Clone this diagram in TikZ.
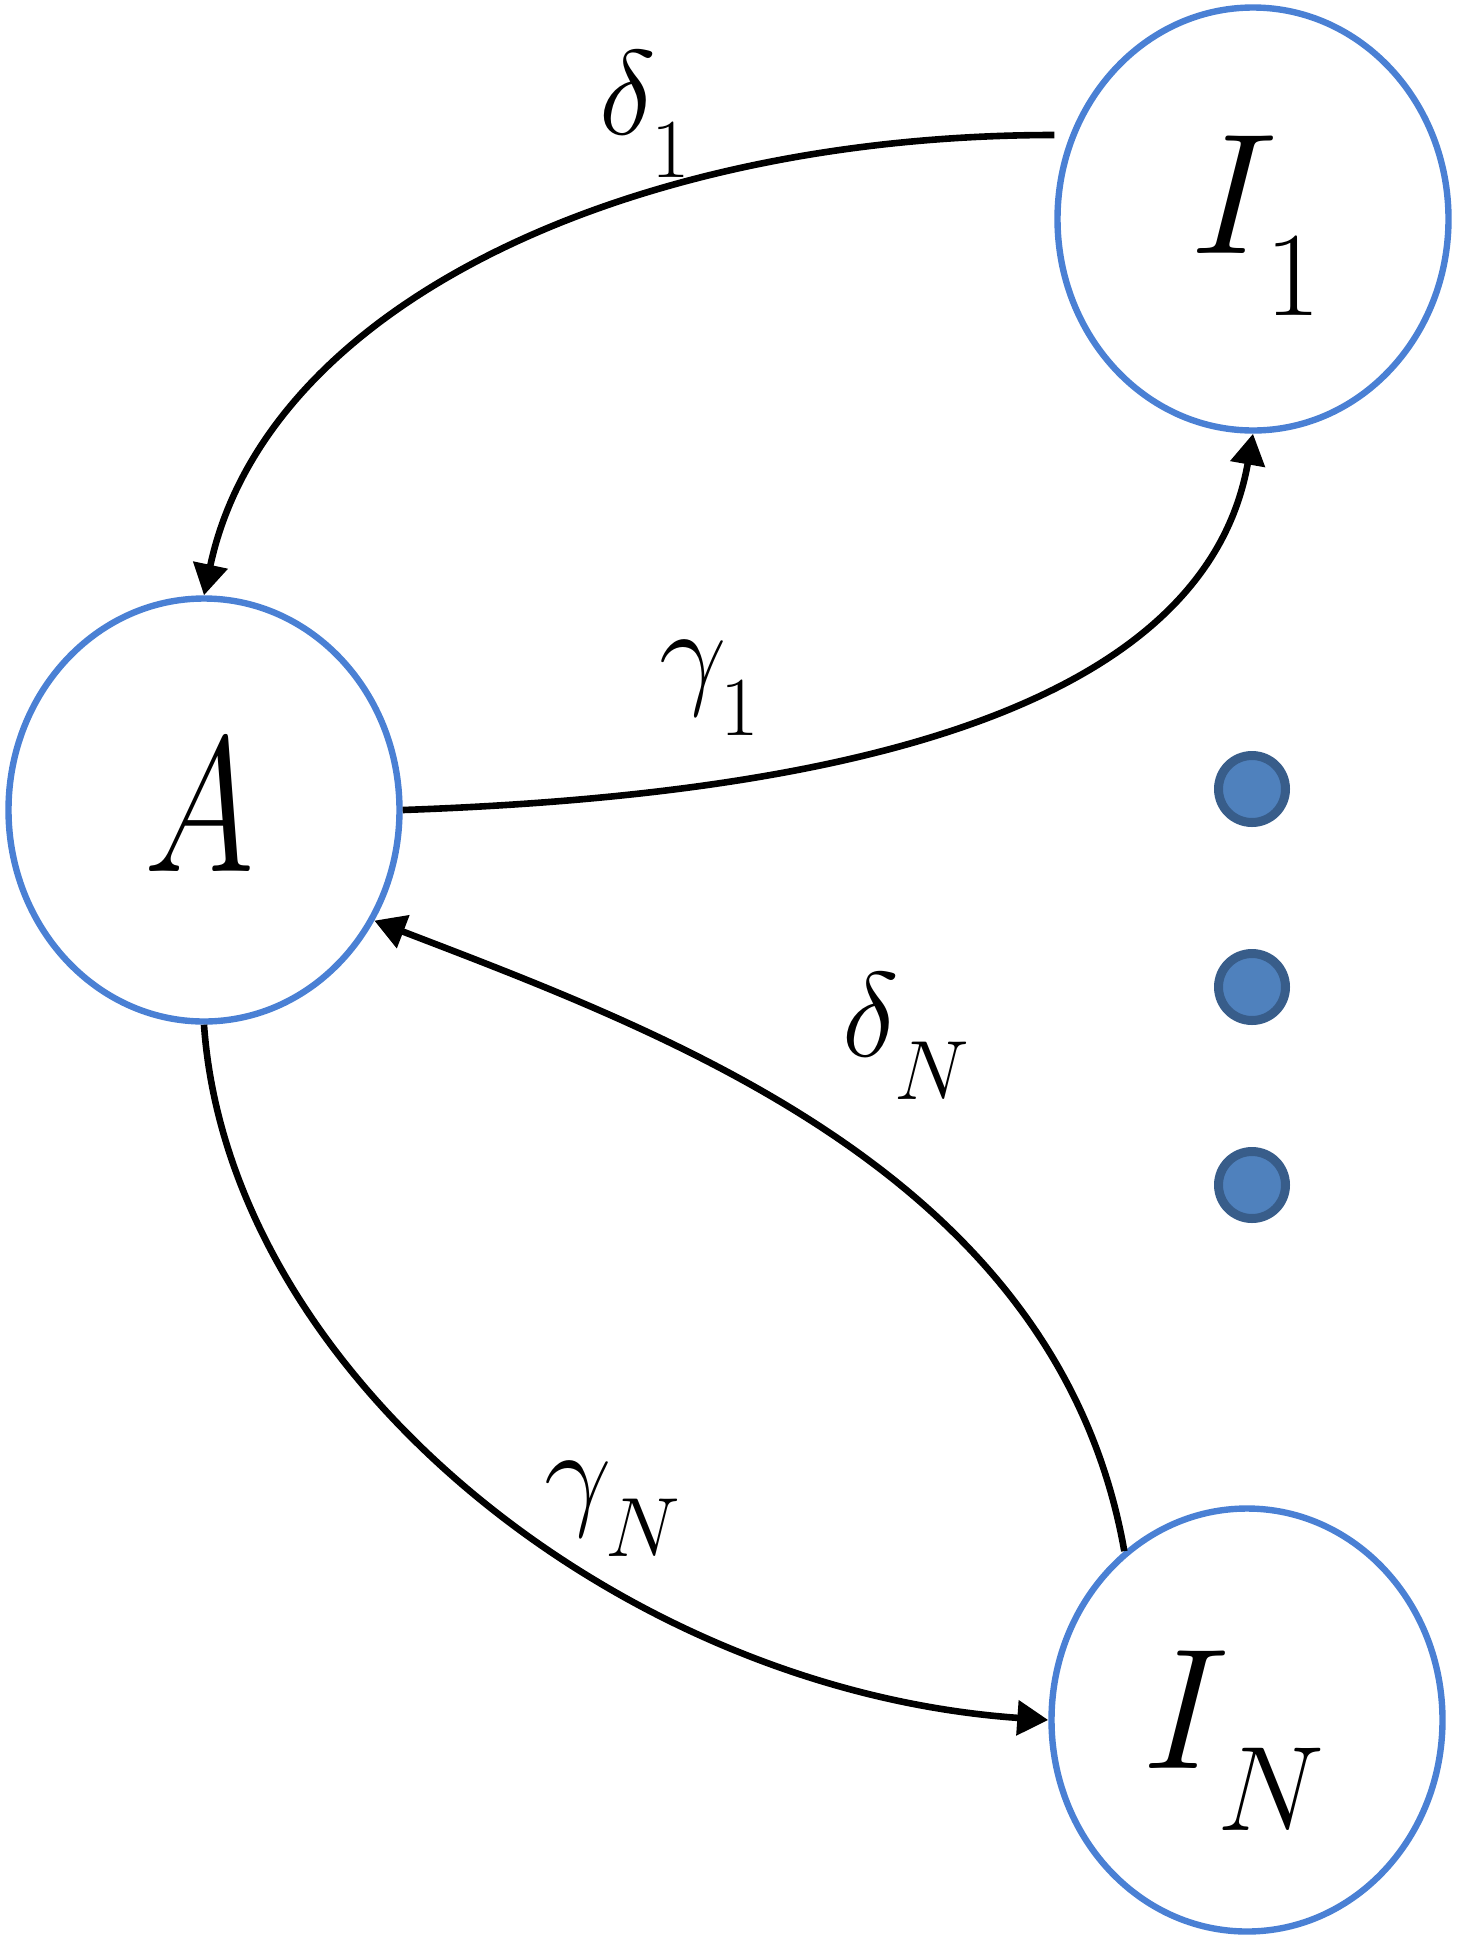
\RequirePackage{fix-cm}
\documentclass[tikz,border=0pt]{standalone}
\usepackage{graphicx}
\usetikzlibrary{arrows.meta,shapes.geometric}
\definecolor{ringblue}{RGB}{74,128,212}
\definecolor{dotfill}{RGB}{79,129,189}
\definecolor{dotline}{RGB}{56,93,138}
\newcommand\lowsub[2]{#1_{\raisebox{-0.21em}{$\scriptstyle #2$}}}
\begin{document}
\begin{tikzpicture}[x=0.5pt,y=0.5pt,
  ring/.style={ellipse,draw=ringblue,line width=3.2pt,minimum width=195.5pt,minimum height=211.5pt,inner sep=0pt},
  nodetext/.style={inner sep=0pt,font=\fontsize{86}{100}\selectfont},
  edgetext/.style={inner sep=0pt,font=\fontsize{60}{72}\selectfont},
  dotnode/.style={circle,fill=dotfill,draw=dotline,line width=4.5pt,minimum size=33.5pt,inner sep=0pt},
  flow/.style={line width=3.3pt,-{Triangle[width=17pt,length=15.5pt]}}]
\useasboundingbox (0,0) rectangle (1457,-1939);
\node[ring] (A) at (204,-810) {};
\node[ring] (I1) at (1253,-219) {};
\node[ring] (IN) at (1247,-1720) {};
\node[nodetext,font=\fontsize{96}{110}\selectfont] (Alab) at (199,-806) {\scalebox{0.78}[1]{$A$}};
\node[nodetext] (I1lab) at (1256,-226) {$\lowsub{I}{1}$};
\node[nodetext] (INlab) at (1234,-1741) {$\lowsub{I}{N}$};
\node[dotnode] (d1) at (1252,-789) {};
\node[dotnode] (d2) at (1252,-987) {};
\node[dotnode] (d3) at (1252,-1185) {};
\draw[flow] ([yshift=42pt]I1.west) to[out=180,in=78,out distance=210pt,in distance=150pt] (A.north);
\draw[flow] (A.east) to[out=2,in=-100,out distance=190pt,in distance=150pt] (I1.south);
\draw[flow] (IN.126) to[out=100,in=-21,out distance=190pt,in distance=160pt] (A.-33);
\draw[flow] (A.south) to[out=-86,in=176,out distance=175pt,in distance=215pt] (IN.west);
\node[edgetext] (labd1) at (645,-114) {$\lowsub{\delta}{1}$};
\node[edgetext] (labg1) at (710,-688) {$\lowsub{\gamma}{1}$};
\node[edgetext] (labdN) at (906,-1036) {$\lowsub{\delta}{N}$};
\node[edgetext] (labgN) at (613,-1509) {$\lowsub{\gamma}{N}$};
\end{tikzpicture}
\end{document}
